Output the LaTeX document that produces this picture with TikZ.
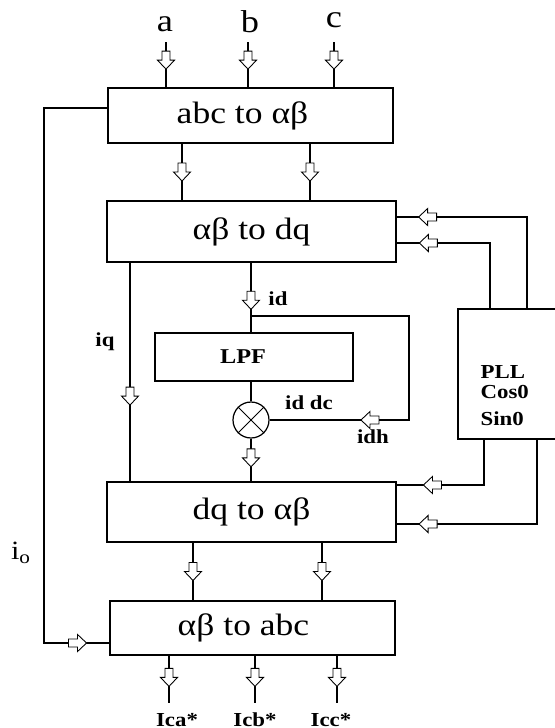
\documentclass[tikz,border=0pt]{standalone}
\usepackage{fontspec}
\setmainfont{Liberation Serif}[FakeStretch=1.15]
\usetikzlibrary{decorations.markings}

\begin{document}
\begin{tikzpicture}[x=0.02cm,y=-0.02cm,line width=0.7pt,
 box/.style={draw,rectangle,inner sep=0pt,font=\fontsize{17.6}{21}\selectfont},
 txt/.style={inner sep=0pt,font=\fontsize{18}{22}\selectfont},
 lab/.style={inner sep=0pt,font=\fontsize{11.3}{13.6}\selectfont\bfseries},
 blk/.style={postaction={decorate,decoration={markings,mark=at position #1 with
   {\draw[line width=0.5pt,fill=white] (-9,-4)--(0,-4)--(0,-8.5)--(9,0)--(0,8.5)--(0,4)--(-9,4)--cycle;}}}},
 blk/.default=0.5,
 thk/.style={line width=1.5pt}]
\useasboundingbox (0,0) rectangle (555,728);
\clip (0,0) rectangle (555,728);
% blocks
\node[box,minimum width=5.7cm,minimum height=1.1cm] (abc) at (250.5,115.5) {\hspace{-0.32cm}abc to αβ};
\node[box,minimum width=5.78cm,minimum height=1.22cm] (dq) at (251.5,231.5) {αβ to dq};
\node[box,minimum width=3.96cm,minimum height=0.96cm,font=\fontsize{12}{14}\selectfont\bfseries] (lpf) at (254,357) {\hspace{-0.44cm}LPF};
\node[draw,circle,minimum size=0.72cm,inner sep=0pt] (mul) at (251,420) {};
\draw[line width=0.5pt] (mul.north west)--(mul.south east) (mul.north east)--(mul.south west);
\node[box,minimum width=5.78cm,minimum height=1.2cm] (iv) at (251.5,512) {dq to αβ};
\node[box,minimum width=5.7cm,minimum height=1.08cm] (out) at (252.5,628) {\hspace{-0.36cm}αβ to abc};
\node[draw,minimum width=2.04cm,minimum height=2.6cm] (pll) at (509,374) {};
\node[lab,align=left,anchor=north west] (plltx) at (480,365) {PLL\\[-2.2pt]Cos0\\[1.8pt]Sin0};
% inputs
\node[txt,anchor=base] (la) at (165,31) {a};
\node[txt,anchor=base] (lb) at (250,32) {b};
\node[txt,anchor=base] (lc) at (334,27) {c};
\coordinate (ia) at (166,42); \coordinate (ib) at (248,42); \coordinate (ic) at (334,42);
\draw[blk=0.4] (ia)--(ia |- abc.north); \draw[blk=0.4] (ib)--(ib |- abc.north); \draw[blk=0.4] (ic)--(ic |- abc.north);
\draw[blk] (182,0 |- abc.south)--(182,0 |- dq.north);
\draw[blk,thk] (310,0 |- abc.south)--(310,0 |- dq.north);
% pll feedback
\draw[blk=0.86] (527,0 |- pll.north) |- (dq.east |- 0,217);
\draw[blk=0.8] (490,0 |- pll.north) |- (dq.east |- 0,243);
\draw[blk=0.73] (484,0 |- pll.south) |- (iv.east |- 0,485);
\draw[blk=0.86] (537,0 |- pll.south) |- (iv.east |- 0,524);
% d and q paths
\draw[blk=0.61] (130,0 |- dq.south)--(130,0 |- iv.north);
\draw[blk=0.54] (251,0 |- dq.south)--(251,0 |- lpf.north);
\coordinate (idb) at (251,316);
\draw[blk=0.75] (idb) -| (409,0 |- mul)--(mul.east);
\draw (251,0 |- lpf.south)--(mul.north);
\draw[blk=0.45] (mul.south)--(mul.south |- iv.north);
\draw[blk,thk] (193,0 |- iv.south)--(193,0 |- out.north);
\draw[blk] (322,0 |- iv.south)--(322,0 |- out.north);
% io feedback
\draw[blk=0.952] (abc.west |- 0,108) -| (44,643)--(out.west |- 0,643);
% outputs
\coordinate (oa) at (169,703); \coordinate (ob) at (255,703); \coordinate (oc) at (337,703);
\draw[blk=0.46] (oa |- out.south)--(oa); \draw[blk=0.46] (ob |- out.south)--(ob); \draw[blk=0.46] (oc |- out.south)--(oc);
\node[lab,anchor=base] (lica) at (177,726) {Ica*};
\node[lab,anchor=base] (licb) at (255,726) {Icb*};
\node[lab,anchor=base] (licc) at (331,726) {Icc*};
% labels
\node[lab] (lid) at (278,299) {id};
\node[lab] (liq) at (105,342) {iq};
\node[lab] (liddc) at (309,403) {id dc};
\node[lab] (lidh) at (373,437) {idh};
\node[inner sep=0pt,font=\fontsize{15}{18}\selectfont] (lio) at (21,553) {i\textsubscript{o}};
\end{tikzpicture}
\end{document}
